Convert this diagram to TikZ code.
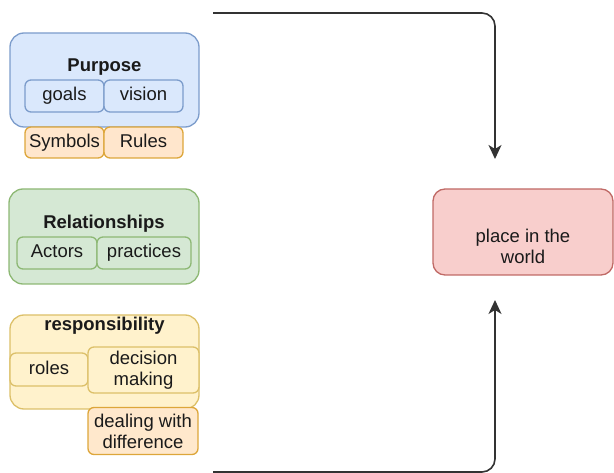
\documentclass[tikz,border=0pt]{standalone}
\usepackage{fontspec}
\setmainfont{Liberation Sans}
\usetikzlibrary{arrows.meta}

\definecolor{blueFill}{HTML}{DAE8FC}
\definecolor{blueLine}{HTML}{7C9CCB}
\definecolor{greenFill}{HTML}{D5E8D4}
\definecolor{greenLine}{HTML}{8DB874}
\definecolor{yellowFill}{HTML}{FFF2CC}
\definecolor{yellowLine}{HTML}{DCC069}
\definecolor{orangeFill}{HTML}{FFE6CC}
\definecolor{orangeLine}{HTML}{DDA63A}
\definecolor{redFill}{HTML}{F8CECC}
\definecolor{redLine}{HTML}{C06A66}
\definecolor{inkGray}{HTML}{1A1A1A}
\definecolor{wireGray}{HTML}{333333}

\tikzset{
  txt/.style={font=\fontsize{18.5}{21}\selectfont, text=inkGray, align=center},
  bigbox/.style={draw, line width=1.3pt, rounded corners=14pt, inner sep=0pt},
  smallbox/.style={txt, draw, line width=1.3pt, rounded corners=6pt, inner sep=0pt},
  oneline/.style={text height=13.5pt, text depth=4pt},
  title/.style={txt, font=\fontsize{18.5}{21}\selectfont\bfseries},
  bluebox/.style={fill=blueFill, draw=blueLine},
  greenbox/.style={fill=greenFill, draw=greenLine},
  yellowbox/.style={fill=yellowFill, draw=yellowLine},
  orangebox/.style={fill=orangeFill, draw=orangeLine},
  redbox/.style={fill=redFill, draw=redLine},
  flow/.style={draw=wireGray, line width=1.6pt, rounded corners=13pt,
    -{Stealth[length=14pt, width=13pt, inset=4pt]}},
}

\begin{document}
\begin{tikzpicture}[x=1pt, y=-1pt]
  \useasboundingbox (0,0) rectangle (614,473);

  % Purpose group
  \node[bigbox, bluebox, minimum width=189pt, minimum height=94pt] (purpose) at (104.5,80) {};
  \node[title] (purposeLbl) at (104.5,67) {Purpose};
  \node[smallbox, oneline, bluebox, minimum width=79pt, minimum height=32pt] (goals) at (64.5,96) {goals};
  \node[smallbox, oneline, bluebox, minimum width=79pt, minimum height=32pt] (vision) at (143.5,96) {vision};
  \node[smallbox, oneline, orangebox, minimum width=79pt, minimum height=31pt] (symbols) at (64.5,142.5) {Symbols};
  \node[smallbox, oneline, orangebox, minimum width=79pt, minimum height=31pt] (rules) at (143.5,142.5) {Rules};

  % Relationships group
  \node[bigbox, greenbox, minimum width=190pt, minimum height=95pt] (relations) at (104,236.5) {};
  \node[title] (relationsLbl) at (104,224) {Relationships};
  \node[smallbox, oneline, greenbox, minimum width=80pt, minimum height=32pt] (actors) at (57,253) {Actors};
  \node[smallbox, oneline, greenbox, minimum width=94pt, minimum height=32pt] (practices) at (144,253) {practices};

  % Responsibility group
  \node[bigbox, yellowbox, minimum width=189pt, minimum height=94pt] (respons) at (104.5,362) {};
  \node[title] (responsLbl) at (104.5,326) {responsibility};
  \node[smallbox, oneline, yellowbox, minimum width=78pt, minimum height=33pt] (roles) at (49,369.5) {roles};
  \node[smallbox, yellowbox, minimum width=111pt, minimum height=46pt] (decision) at (143.5,370) {decision\\making};
  \node[smallbox, orangebox, fill=orangeFill!80!yellowFill, draw=orangeLine, minimum width=110pt, minimum height=47pt] (dealing) at (143,431) {dealing with\\difference};

  % Target box; its text sits low in the box
  \node[smallbox, redbox, rounded corners=12pt, minimum width=180pt, minimum height=86pt] (place) at (523,232) {};
  \node[txt] (placeLbl) at (523,246) {place in the\\world};

  % Connectors
  \coordinate (topStart) at (213,13);
  \coordinate (topEnd) at (495,159);
  \coordinate (botStart) at (213,472);
  \coordinate (botEnd) at (495,300);
  \draw[flow] (topStart) -| (topEnd);
  \draw[flow] (botStart) -| (botEnd);
\end{tikzpicture}
\end{document}
